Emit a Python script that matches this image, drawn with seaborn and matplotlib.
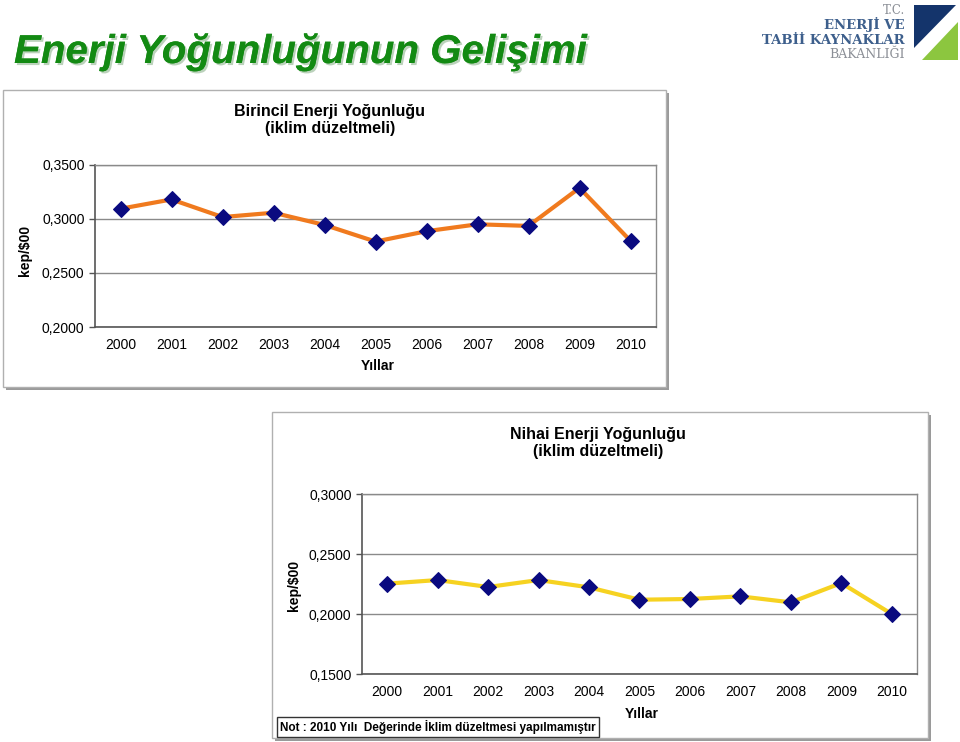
import matplotlib
matplotlib.use("Agg")
import matplotlib.pyplot as plt
import seaborn as sns
import numpy as np
import pandas as pd
from matplotlib.patches import Rectangle, Polygon
from matplotlib.ticker import FixedLocator, FuncFormatter
import matplotlib.patheffects as pe

# ---- data ----
years = [2000, 2001, 2002, 2003, 2004, 2005, 2006, 2007, 2008, 2009, 2010]
birincil = [0.3095, 0.3181, 0.3018, 0.3058, 0.2945, 0.2791, 0.2887, 0.2951, 0.2936, 0.3288, 0.2798]
nihai = [0.2253, 0.2283, 0.2225, 0.2283, 0.2222, 0.2119, 0.2125, 0.2147, 0.2097, 0.2258, 0.2000]
top_yticks = [0.20, 0.25, 0.30, 0.35]
bot_yticks = [0.15, 0.20, 0.25, 0.30]
main_title = "Enerji Yoğunluğunun Gelişimi"
top_title = "Birincil Enerji Yoğunluğu\n(iklim düzeltmeli)"
bot_title = "Nihai Enerji Yoğunluğu\n(iklim düzeltmeli)"
xlabel = "Yıllar"
ylabel = "kep/$00"
note = "Not : 2010 Yılı  Değerinde İklim düzeltmesi yapılmamıştır"

sns.set_theme(style="white")
plt.rcParams['font.family'] = ['Liberation Sans', 'DejaVu Sans']
plt.rcParams['mathtext.default'] = 'regular'
plt.rcParams['text.color'] = 'black'
plt.rcParams['xtick.color'] = 'black'
plt.rcParams['ytick.color'] = 'black'

W, H = 960, 742
fig = plt.figure(figsize=(W / 100, H / 100), dpi=100)
fig.patch.set_facecolor("white")


def fx(px):
    return px / W


def fy(py):
    return 1 - py / H


def frame(x0, y0, x1, y1):
    # shadow
    fig.add_artist(Rectangle((fx(x0 + 3), fy(y1 + 3)), fx(x1 - x0), (y1 - y0) / H,
                             transform=fig.transFigure, facecolor="#9a9a9a",
                             edgecolor="none", zorder=-3))
    fig.add_artist(Rectangle((fx(x0), fy(y1)), fx(x1 - x0), (y1 - y0) / H,
                             transform=fig.transFigure, facecolor="white",
                             edgecolor="#b0b0b0", linewidth=1, zorder=-2))


frame(3, 90, 666, 387)
frame(272, 412, 928, 738)

fmt = FuncFormatter(lambda v, p: f"{v:.4f}".replace(".", ","))


def make_axes(rect, vals, color, yticks, ylim):
    ax = fig.add_axes(rect)
    ax.set_zorder(2)
    ax.set_facecolor("white")
    df = pd.DataFrame({"Yıl": years, "Değer": vals})
    sns.lineplot(data=df, x="Yıl", y="Değer", ax=ax, color=color, linewidth=3,
                 marker="D", markersize=8, markerfacecolor="#0a0a80",
                 markeredgecolor="#0a0a80", zorder=3)
    ax.set_xlim(years[0] - 0.5, years[-1] + 0.5)
    ax.set_ylim(*ylim)
    ax.yaxis.set_major_locator(FixedLocator(yticks))
    ax.yaxis.set_major_formatter(fmt)
    ax.xaxis.set_major_locator(FixedLocator(years))
    ax.xaxis.set_minor_locator(FixedLocator([y + 0.5 for y in [years[0] - 1] + years]))
    ax.set_xticklabels([str(y) for y in years])
    ax.grid(axis="y", color="#8a8a8a", linewidth=1)
    ax.tick_params(axis="x", which="major", length=0, labelsize=10, pad=8, labelcolor="black")
    ax.tick_params(axis="x", which="minor", length=5, direction="out", color="#555555", width=1)
    ax.tick_params(axis="y", which="major", length=4, direction="out", labelsize=10,
                   labelcolor="black", left=True, width=1, color="#555555")
    for s in ["left", "bottom"]:
        ax.spines[s].set_color("#555555")
        ax.spines[s].set_linewidth(1.2)
    for s in ["right", "top"]:
        ax.spines[s].set_color("#8a8a8a")
        ax.spines[s].set_linewidth(1)
    ax.set_xlabel("")
    ax.set_ylabel("")
    return ax


ax1 = make_axes([fx(95), fy(327), fx(656 - 95), (327 - 165) / H], birincil,
                "#f07a1e", top_yticks, (0.20, 0.35))
ax2 = make_axes([fx(362), fy(674), fx(917 - 362), (674 - 494) / H], nihai,
                "#f6d221", bot_yticks, (0.15, 0.30))

# chart titles and labels
fig.text(fx(330), fy(120), top_title, ha="center", va="center", fontsize=11.5,
         fontweight="bold", linespacing=1.2)
fig.text(fx(598), fy(443), bot_title, ha="center", va="center", fontsize=11.5,
         fontweight="bold", linespacing=1.2)
fig.text(fx(378), fy(366), xlabel, ha="center", va="center", fontsize=10, fontweight="bold")
fig.text(fx(642), fy(714), xlabel, ha="center", va="center", fontsize=10, fontweight="bold")
fig.text(fx(25), fy(250), ylabel, ha="center", va="center", fontsize=10,
         fontweight="bold", rotation=90)
fig.text(fx(294), fy(585), ylabel, ha="center", va="center", fontsize=10,
         fontweight="bold", rotation=90)

# note box
fig.text(fx(280), fy(727), note, ha="left", va="center", fontsize=8.5, fontweight="bold",
         bbox=dict(boxstyle="square,pad=0.25", facecolor="white", edgecolor="#333333",
                   linewidth=1))

# main title
fig.text(fx(14), fy(52), main_title, ha="left", va="center", fontsize=29,
         fontweight="bold", fontstyle="italic", color="#138a13",
         path_effects=[pe.withSimplePatchShadow(offset=(1.5, -1.5), shadow_rgbFace="#9fbf9f",
                                                alpha=0.7), pe.Normal()])

# logo
fig.text(fx(905), fy(10), "T.C.", ha="right", va="center", fontsize=8.5,
         family="DejaVu Serif", color="#8b8f96")
fig.text(fx(905), fy(25), "ENERJİ VE", ha="right", va="center", fontsize=9.5,
         family="DejaVu Serif", color="#3d5f8c", fontweight="bold")
fig.text(fx(905), fy(40), "TABİİ KAYNAKLAR", ha="right", va="center", fontsize=9.5,
         family="DejaVu Serif", color="#3d5f8c", fontweight="bold")
fig.text(fx(905), fy(55), "BAKANLIĞI", ha="right", va="center", fontsize=9,
         family="DejaVu Serif", color="#8b8f96")
fig.add_artist(Polygon([(fx(914), fy(5)), (fx(956), fy(5)), (fx(914), fy(48))],
                       closed=True, transform=fig.transFigure, facecolor="#14346b",
                       edgecolor="none"))
fig.add_artist(Polygon([(fx(958), fy(22)), (fx(958), fy(60)), (fx(922), fy(60))],
                       closed=True, transform=fig.transFigure, facecolor="#8cc63f",
                       edgecolor="none"))

fig.savefig("out.png", dpi=100, facecolor="white")
